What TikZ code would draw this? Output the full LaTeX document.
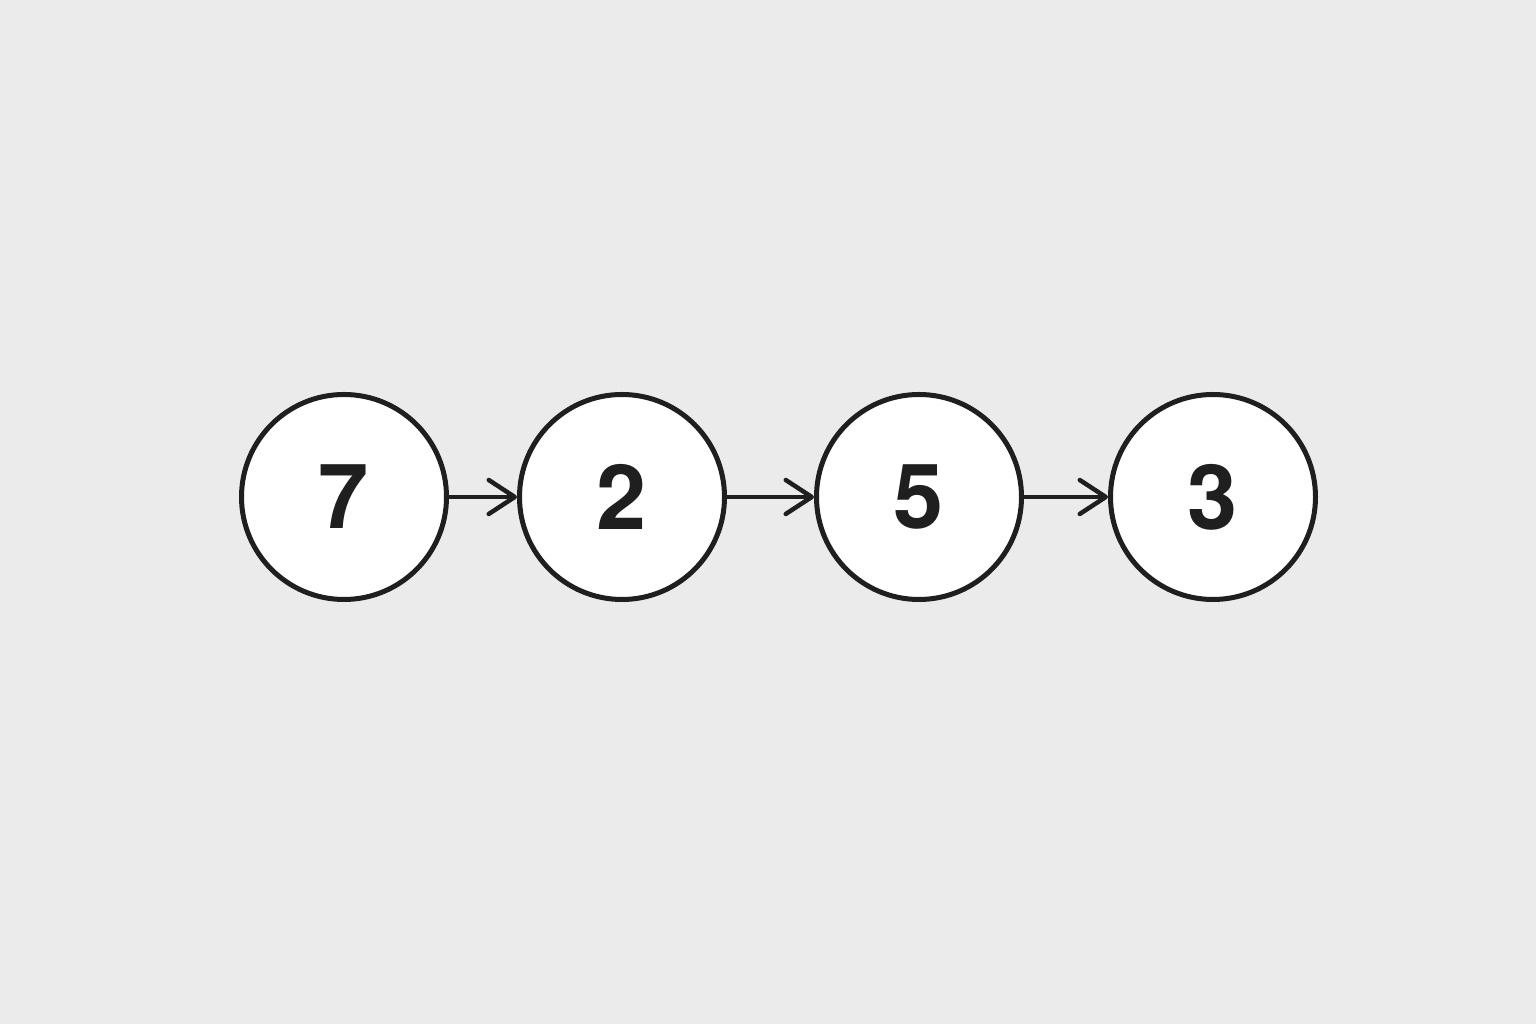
\documentclass[tikz,border=0pt]{standalone}
\usepackage{fontspec}
\setmainfont{TeX Gyre Heros}
\usetikzlibrary{positioning,arrows.meta}
\definecolor{bggray}{HTML}{EBEBEB}
\definecolor{inkdark}{HTML}{1F1F1F}

\begin{document}
\begin{tikzpicture}[node distance=68pt,
  num/.style={draw=inkdark, circle, fill=white, line width=5pt, minimum size=205pt, inner sep=0pt, text=inkdark, font=\fontsize{90}{90}\selectfont\bfseries},
  link/.style={draw=inkdark, line width=4.5pt, line cap=round, -{Straight Barb[length=26pt, width=34pt, line cap=round, line join=round]}}]
% Background
\fill [bggray] (0pt,0pt) rectangle (1536pt,1024pt);
\useasboundingbox (0pt,0pt) rectangle (1536pt,1024pt);

% List nodes
\node [num] at (344pt,527pt) (seven) {7};
\node [num] [right=68pt of seven] (two) {2};
\node [num] [right=87pt of two] (five) {5};
\node [num] [right=84pt of five] (three) {3};

% Links
\draw [link] (seven) -- (two);
\draw [link] (two) -- (five);
\draw [link] (five) -- (three);
\end{tikzpicture}
\end{document}
